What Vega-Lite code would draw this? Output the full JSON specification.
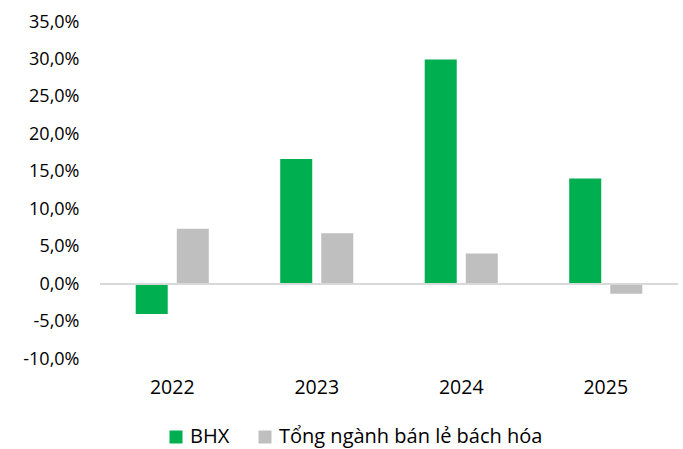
{
  "$schema": "https://vega.github.io/schema/vega-lite/v6.json",
  "width": 578,
  "height": 337,
  "autosize": "none",
  "padding": {"left": 100, "top": 22, "right": 5, "bottom": 90},
  "background": "white",
  "config": {
    "view": {"stroke": null},
    "font": "Open Sans",
    "axis": {"labelFont": "Open Sans", "labelColor": "#000000", "labelFontSize": 18, "labelOverlap": false, "domain": false, "ticks": false, "grid": false, "title": null},
    "legend": {"labelFont": "Open Sans"}
  },
  "data": {
    "values": [
      {"year": "2022", "series": "BHX", "value": -4.0},
      {"year": "2022", "series": "Tổng ngành bán lẻ bách hóa", "value": 7.4},
      {"year": "2023", "series": "BHX", "value": 16.7},
      {"year": "2023", "series": "Tổng ngành bán lẻ bách hóa", "value": 6.8},
      {"year": "2024", "series": "BHX", "value": 30.0},
      {"year": "2024", "series": "Tổng ngành bán lẻ bách hóa", "value": 4.1},
      {"year": "2025", "series": "BHX", "value": 14.1},
      {"year": "2025", "series": "Tổng ngành bán lẻ bách hóa", "value": -1.3}
    ]
  },
  "layer": [
    {
      "mark": {"type": "bar"},
      "encoding": {
        "x": {
          "field": "year", "type": "nominal",
          "scale": {"paddingInner": 0, "paddingOuter": 0},
          "axis": {"title": null, "labelAngle": 0, "labelPadding": 19, "labelFontSize": 19.5}
        },
        "xOffset": {
          "field": "series", "type": "nominal",
          "scale": {"paddingInner": 0.22, "paddingOuter": 0.87}
        },
        "y": {
          "field": "value", "type": "quantitative",
          "scale": {"domain": [-10, 35], "nice": false, "zero": false},
          "axis": {
            "title": null,
            "values": [-10, -5, 0, 5, 10, 15, 20, 25, 30, 35],
            "labelOverlap": false,
            "labelPadding": 21,
            "labelExpr": "replace(replace(format(datum.value, '.1f'), '.', ','), '−', '-') + '%'"
          }
        },
        "color": {
          "field": "series", "type": "nominal",
          "scale": {"domain": ["BHX", "Tổng ngành bán lẻ bách hóa"], "range": ["#00B050", "#BFBFBF"]},
          "legend": {
            "title": null, "orient": "none", "direction": "horizontal",
            "legendX": 66, "legendY": 405,
            "symbolType": "square", "symbolSize": 169, "symbolStrokeWidth": 0,
            "labelFontSize": 20, "labelColor": "#000000", "labelOffset": 4, "columnPadding": 25,
            "labelLimit": 500
          }
        }
      }
    },
    {
      "mark": {"type": "rule", "color": "#D9D9D9", "strokeWidth": 1.5},
      "encoding": {"y": {"datum": 0, "type": "quantitative",
        "axis": {
            "title": null,
            "values": [-10, -5, 0, 5, 10, 15, 20, 25, 30, 35],
            "labelOverlap": false,
            "labelPadding": 21,
            "labelExpr": "replace(replace(format(datum.value, '.1f'), '.', ','), '−', '-') + '%'"
          }}}
    }
  ]
}
